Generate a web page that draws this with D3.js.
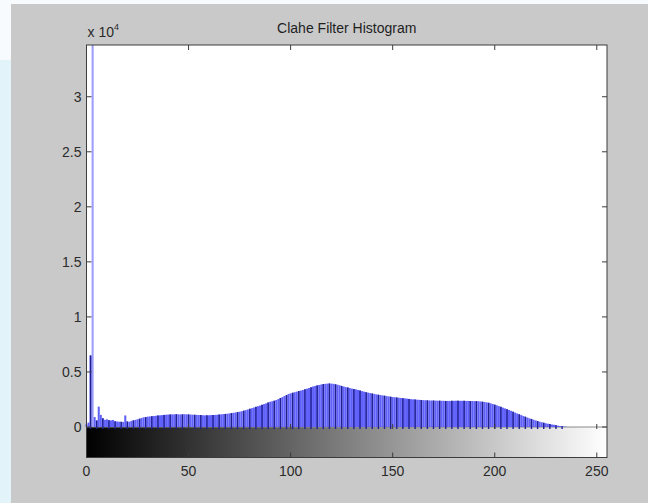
<!DOCTYPE html>
<html>
<head>
<meta charset="utf-8">
<script src="https://cdn.jsdelivr.net/npm/d3@7"></script>
<style>
    html, body { margin: 0; padding: 0; background: #ffffff; }
    svg { display: block; }
    .tick-label { font-family: "Liberation Sans", Arial, sans-serif; font-size: 14px; fill: #2b2b2b; }
    .title { font-family: "Liberation Sans", Arial, sans-serif; font-size: 14px; fill: #1e1e1e; }
</style>
</head>
<body>
<div id="chart"></div>
<script>
// histogram counts, one value per gray level 0..255
var counts = [
    250, 400, 6500, 34700, 900, 600, 1850, 1100, 800, 650, 700, 620, 600, 640, 520, 500,
    480, 470, 460, 1050, 500, 480, 560, 600, 650, 700, 750, 820, 880, 900, 940, 960,
    980, 1000, 1020, 1050, 1060, 1080, 1100, 1120, 1130, 1140, 1150, 1150, 1160, 1150, 1140, 1150,
    1160, 1150, 1140, 1130, 1120, 1110, 1100, 1090, 1080, 1070, 1060, 1060, 1070, 1080, 1090, 1100,
    1110, 1130, 1150, 1170, 1190, 1210, 1230, 1260, 1290, 1320, 1350, 1390, 1430, 1480, 1530, 1590,
    1650, 1710, 1770, 1830, 1890, 1950, 2010, 2080, 2150, 2220, 2290, 2340, 2390, 2450, 2540, 2630,
    2720, 2810, 2900, 3000, 3060, 3110, 3160, 3210, 3260, 3310, 3360, 3420, 3480, 3540, 3600, 3680,
    3730, 3780, 3820, 3860, 3900, 3920, 3940, 3950, 3940, 3920, 3880, 3840, 3790, 3730, 3680, 3630,
    3590, 3540, 3490, 3450, 3420, 3370, 3320, 3260, 3210, 3160, 3120, 3080, 3040, 3000, 2960, 2930,
    2900, 2870, 2840, 2810, 2780, 2750, 2720, 2700, 2680, 2660, 2640, 2620, 2600, 2580, 2550, 2530,
    2510, 2500, 2480, 2470, 2450, 2440, 2430, 2420, 2410, 2410, 2400, 2400, 2390, 2390, 2380, 2380,
    2370, 2370, 2370, 2380, 2380, 2390, 2390, 2380, 2380, 2380, 2370, 2370, 2360, 2360, 2350, 2350,
    2340, 2320, 2300, 2270, 2240, 2200, 2150, 2090, 2030, 1970, 1900, 1830, 1760, 1690, 1620, 1550,
    1470, 1390, 1310, 1230, 1150, 1080, 1000, 930, 860, 790, 730, 660, 600, 540, 480, 430,
    390, 340, 300, 270, 230, 200, 160, 120, 90, 60, 40, 20, 0, 0, 0, 0,
    0, 0, 0, 0, 0, 0, 0, 0, 0, 0, 0, 0, 0, 0, 0, 0
];
var xTicks = [0, 50, 100, 150, 200, 250];
var yTicks = [0, 5000, 10000, 15000, 20000, 25000, 30000];
var yTickLabels = ["0", "0.5", "1", "1.5", "2", "2.5", "3"];
var titleText = "Clahe Filter Histogram";

var W = 648, H = 503;
var axLeft = 86.5, axRight = 607, axTop = 45, zeroY = 427, axBottom = 457.5;

var svg = d3.select("#chart").append("svg")
    .attr("width", W)
    .attr("height", H);

// window background: light strip on the left / top, gray figure
svg.append("rect").attr("x", 0).attr("y", 0).attr("width", W).attr("height", H).attr("fill", "#f7fbfd");
svg.append("rect").attr("x", 0).attr("y", 60).attr("width", 11).attr("height", H - 60).attr("fill", "#e2f3fa");
svg.append("rect").attr("x", 11).attr("y", 4).attr("width", W - 11).attr("height", H - 4).attr("fill", "#c9c9c9");

var x = d3.scaleLinear().domain([0, 255]).range([axLeft, axRight]);
var y = d3.scaleLinear().domain([0, d3.max(counts)]).range([zeroY, axTop]);

var bins = counts.map(function (v, i) { return {level: i, count: v}; });

// axes area
svg.append("rect")
    .attr("x", axLeft).attr("y", axTop)
    .attr("width", axRight - axLeft).attr("height", axBottom - axTop)
    .attr("fill", "#ffffff");

// gray level colorbar under the histogram
var grad = svg.append("defs").append("linearGradient")
    .attr("id", "gray")
    .attr("x1", "0%").attr("x2", "100%").attr("y1", "0%").attr("y2", "0%");
grad.append("stop").attr("offset", "0%").attr("stop-color", "#000000");
grad.append("stop").attr("offset", "100%").attr("stop-color", "#ffffff");

svg.append("rect")
    .attr("x", axLeft).attr("y", zeroY)
    .attr("width", axRight - axLeft).attr("height", axBottom - zeroY)
    .attr("fill", "url(#gray)");

// stem baseline
svg.append("line")
    .attr("x1", axLeft).attr("x2", axRight)
    .attr("y1", zeroY).attr("y2", zeroY)
    .attr("stroke", "#8a8a8a").attr("stroke-width", 1);

var bw = x(1) - x(0);

// stems
svg.append("g").selectAll("rect")
    .data(bins)
    .enter().append("rect")
    .attr("x", function (d) { return x(d.level) - bw / 2; })
    .attr("y", function (d) { return y(d.count); })
    .attr("width", bw)
    .attr("height", function (d) { return zeroY - y(d.count); })
    .attr("fill", function (d) { return d.count > 20000 ? "#9c9cff" : "#6060fa"; });

// every third stem shows darker in the screenshot
svg.append("g").selectAll("line")
    .data(bins.filter(function (d) { return d.level % 3 === 2 && d.count > 0; }))
    .enter().append("line")
    .attr("x1", function (d) { return x(d.level); })
    .attr("x2", function (d) { return x(d.level); })
    .attr("y1", zeroY + 2)
    .attr("y2", function (d) { return y(d.count); })
    .attr("stroke", "#20208e")
    .attr("stroke-width", 1.4);

// frame
svg.append("rect")
    .attr("x", axLeft).attr("y", axTop)
    .attr("width", axRight - axLeft).attr("height", axBottom - axTop)
    .attr("fill", "none")
    .attr("stroke", "#3c3c3c")
    .attr("stroke-width", 1);

// ticks (inside, matlab style)
var tk = svg.append("g").attr("stroke", "#3c3c3c").attr("stroke-width", 1);
yTicks.forEach(function (t) {
    tk.append("line").attr("x1", axLeft).attr("x2", axLeft + 5).attr("y1", y(t)).attr("y2", y(t));
    tk.append("line").attr("x1", axRight).attr("x2", axRight - 5).attr("y1", y(t)).attr("y2", y(t));
});
xTicks.forEach(function (t) {
    tk.append("line").attr("x1", x(t)).attr("x2", x(t)).attr("y1", axTop).attr("y2", axTop + 5);
    tk.append("line").attr("x1", x(t)).attr("x2", x(t)).attr("y1", zeroY + 2).attr("y2", zeroY - 3);
    tk.append("line").attr("x1", x(t)).attr("x2", x(t)).attr("y1", axBottom).attr("y2", axBottom - 5);
});

// tick labels
svg.append("g").selectAll("text")
    .data(yTicks)
    .enter().append("text")
    .attr("class", "tick-label")
    .attr("x", axLeft - 5)
    .attr("y", function (d) { return y(d); })
    .attr("dy", "0.35em")
    .attr("text-anchor", "end")
    .text(function (d, i) { return yTickLabels[i]; });

svg.append("g").selectAll("text")
    .data(xTicks)
    .enter().append("text")
    .attr("class", "tick-label")
    .attr("x", function (d) { return x(d); })
    .attr("y", 476)
    .attr("text-anchor", "middle")
    .text(function (d) { return d; });

// exponent
var ex = svg.append("text")
    .attr("class", "tick-label")
    .attr("x", axLeft + 1)
    .attr("y", 37);
ex.append("tspan").text("x 10");
ex.append("tspan").attr("dy", -7).style("font-size", "9px").text("4");

svg.append("text")
    .attr("class", "title")
    .attr("x", (axLeft + axRight) / 2)
    .attr("y", 33)
    .attr("text-anchor", "middle")
    .text(titleText);
</script>
</body>
</html>
